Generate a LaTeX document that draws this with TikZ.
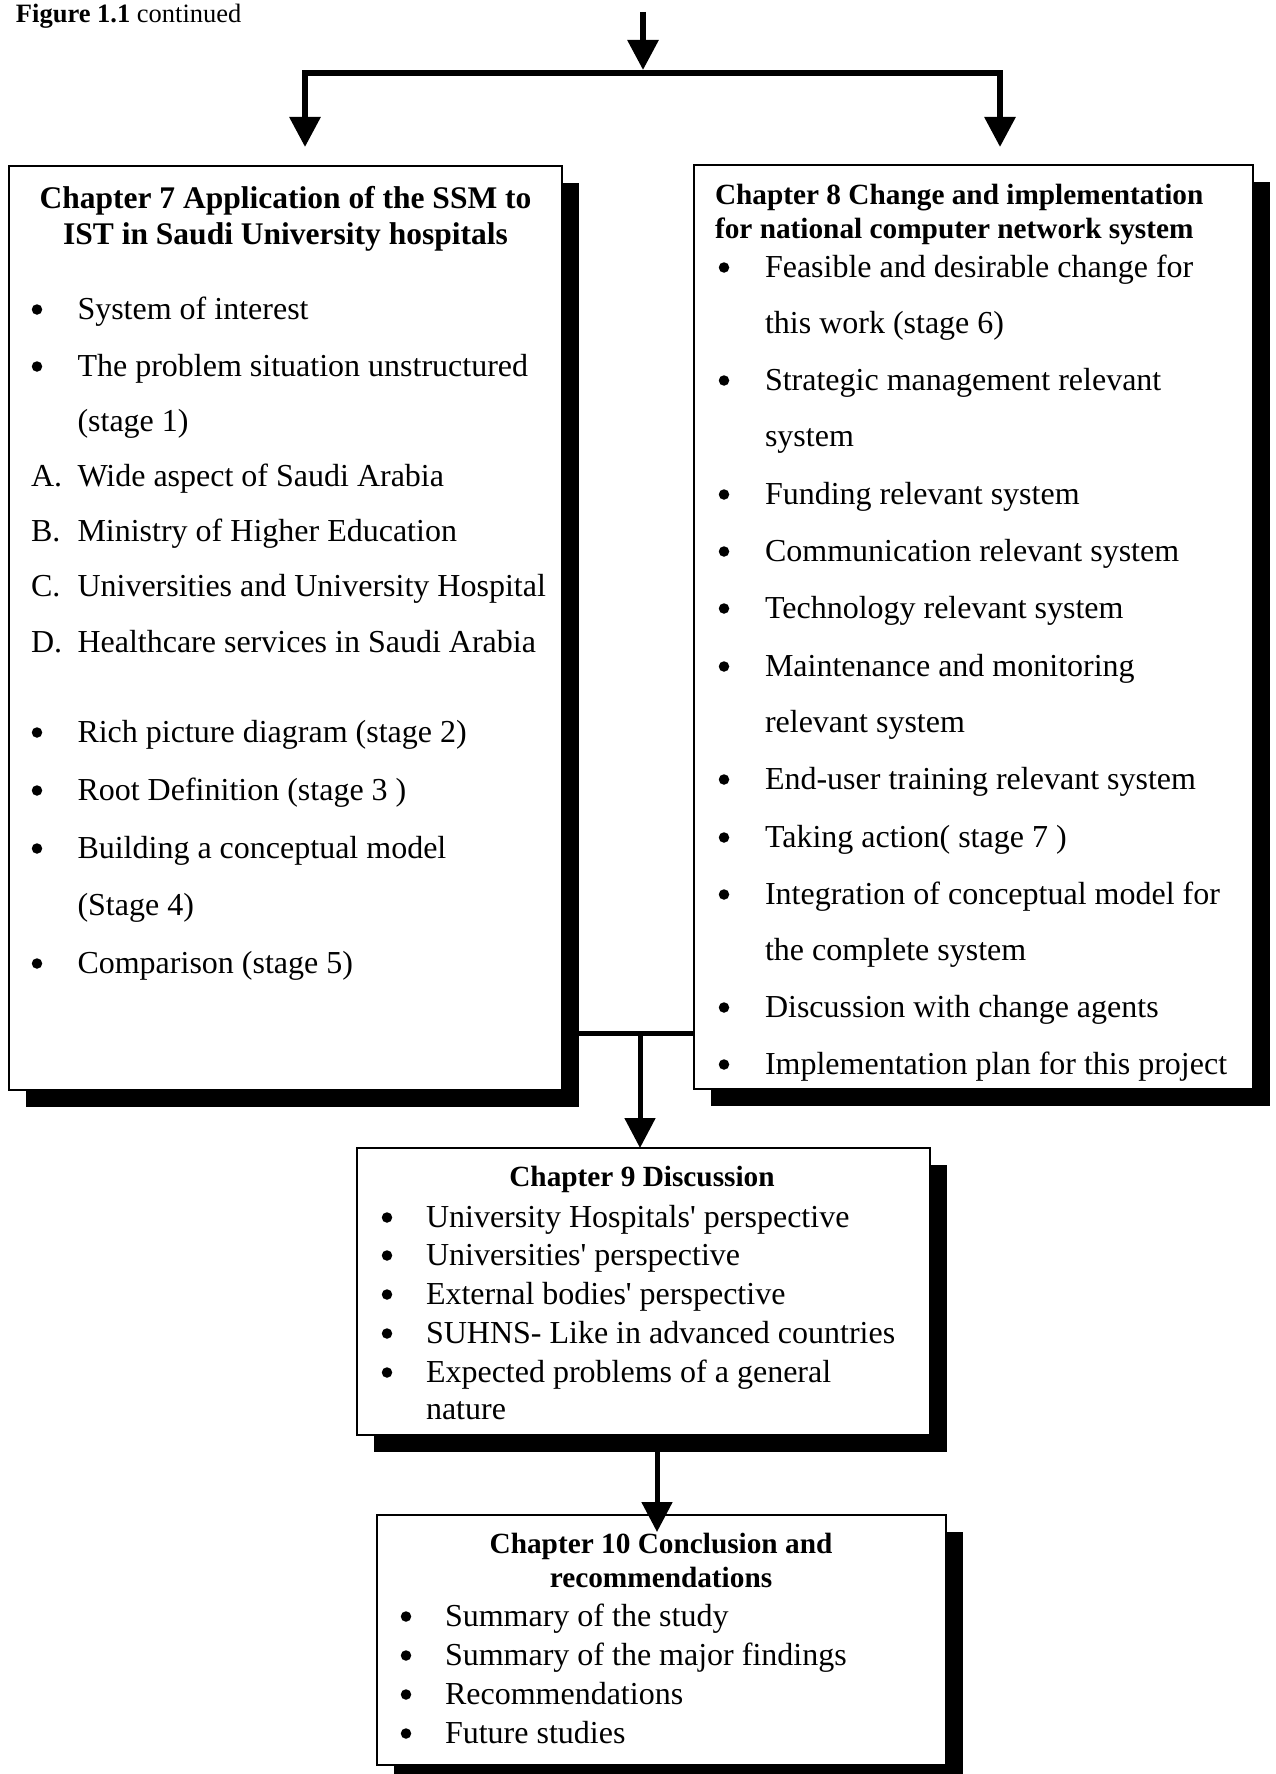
\documentclass[tikz,border=0pt]{standalone}
\usepackage{fontspec}
\setmainfont{Liberation Serif}
\usetikzlibrary{shadows,arrows.meta}

\begin{document}
\begin{tikzpicture}[x=1pt,y=-1pt,
  every node/.style={inner sep=0pt,outer sep=0pt},
  chapbox/.style={draw=black,line width=2.2pt,fill=white,anchor=north west,
    drop shadow={shadow xshift=17pt,shadow yshift=-17pt,fill=black,opacity=1}},
  item/.style={anchor=base west,font=\fontsize{32}{38}\selectfont},
  dot/.style={circle,fill=black,minimum size=10.5pt,yshift=9.5pt},
  ttl/.style={anchor=base,font=\fontsize{31.5}{36}\selectfont\bfseries},
  ttls/.style={font=\fontsize{29.3}{34}\selectfont\bfseries},
  flow/.style={line width=5.5pt,-{Triangle[length=30pt,width=30pt]}},
]
\useasboundingbox (0,0) rectangle (1275,1774);

% caption line
\node[anchor=base west,font=\fontsize{26.5}{30}\selectfont] (cap) at (16,23)
  {\textbf{Figure 1.1} continued};

% chapter boxes
\node[chapbox,minimum width=553pt,minimum height=924pt] (ch7) at (9,166) {};
\node[chapbox,minimum width=559pt,minimum height=924pt] (ch8) at (694,165) {};
\node[chapbox,minimum width=573pt,minimum height=287pt] (ch9) at (357,1148) {};
\node[chapbox,minimum width=569pt,minimum height=250pt] (ch10) at (377,1515) {};

% incoming arrow and split to chapters 7 and 8
\coordinate (src) at (643,12);
\coordinate (jT) at (643,70);
\coordinate (jL) at (305,73);
\coordinate (jR) at (1000,73);
\coordinate (in7) at (305,147);
\coordinate (in8) at (1000,147);
\draw[flow,line width=6pt] (src) -- (jT);
\draw[line width=6.5pt,line cap=rect] (jL) -- (jR);
\draw[flow,line width=6pt] (jL) -- (in7);
\draw[flow,line width=6pt] (jR) -- (in8);

% merge of chapters 7 and 8 into chapter 9
\coordinate (m) at (640,1033);
\draw[line width=5pt] (ch7.east |- m) -- (ch8.west |- m);
\draw[flow,line width=5pt] (m) -- (ch9.north -| m);

% chapter 9 to chapter 10
\coordinate (in10) at (657,1532);
\draw[flow,line width=5pt] (ch9.south -| in10) -- (in10);

% ---------- Chapter 7 ----------
\node[ttl] (h7a) at (285.5,208) {Chapter 7 Application of the SSM to};
\node[ttl] (h7b) at (285.5,244) {IST in Saudi University hospitals};
\foreach \y/\t [count=\i] in {319/System of interest,
    376/The problem situation unstructured,
    742/Rich picture diagram (stage 2),
    800/Root Definition (stage 3 ),
    858/Building a conceptual model,
    973/Comparison (stage 5)}{
  \node[dot] (d7\i) at (37,\y) {};
  \node[item] (t7\i) at (77.5,\y) {\t};
}
\node[item] (s7a) at (77.5,431) {(stage 1)};
\node[item] (s7b) at (77.5,915) {(Stage 4)};
\foreach \y/\l/\t [count=\i] in {486/A./Wide aspect of Saudi Arabia,
    541/B./Ministry of Higher Education,
    596/C./Universities and University Hospital,
    652/D./Healthcare services in Saudi Arabia}{
  \node[item] (l7\i) at (31,\y) {\l};
  \node[item] (a7\i) at (77.5,\y) {\t};
}

% ---------- Chapter 8 ----------
\node[ttls,anchor=base west] (h8a) at (715,204) {Chapter 8 Change and implementation};
\node[ttls,anchor=base west] (h8b) at (715,238) {for national computer network system};
\foreach \y/\t [count=\i] in {277/Feasible and desirable change for,
    390/Strategic management relevant,
    504/Funding relevant system,
    561/Communication relevant system,
    618/Technology relevant system,
    676/Maintenance and monitoring,
    789/End-user training relevant system,
    847/Taking action( stage 7 ),
    904/Integration of conceptual model for,
    1017/Discussion with change agents,
    1074/Implementation plan for this project}{
  \node[dot] (d8\i) at (724,\y) {};
  \node[item] (t8\i) at (765,\y) {\t};
}
\foreach \y/\t [count=\i] in {333/this work (stage 6),
    446/system,
    732/relevant system,
    960/the complete system}{
  \node[item] (c8\i) at (765,\y) {\t};
}

% ---------- Chapter 9 ----------
\node[ttls,anchor=base] (h9) at (642,1186) {Chapter 9 Discussion};
\foreach \y/\t [count=\i] in {1227/University Hospitals\textquotesingle{} perspective,
    1265/Universities\textquotesingle{} perspective,
    1304/External bodies\textquotesingle{} perspective,
    1343/SUHNS- Like in advanced countries,
    1382/Expected problems of a general}{
  \node[dot] (d9\i) at (387,\y) {};
  \node[item] (t9\i) at (426,\y) {\t};
}
\node[item] (c91) at (426,1419) {nature};

% ---------- Chapter 10 ----------
\node[ttls,anchor=base] (h10a) at (661,1553) {Chapter 10 Conclusion and};
\node[ttls,anchor=base] (h10b) at (661,1587) {recommendations};
\foreach \y/\t [count=\i] in {1626/Summary of the study,
    1665/Summary of the major findings,
    1704/Recommendations,
    1743/Future studies}{
  \node[dot] (d10\i) at (406,\y) {};
  \node[item] (t10\i) at (445,\y) {\t};
}
\end{tikzpicture}
\end{document}
